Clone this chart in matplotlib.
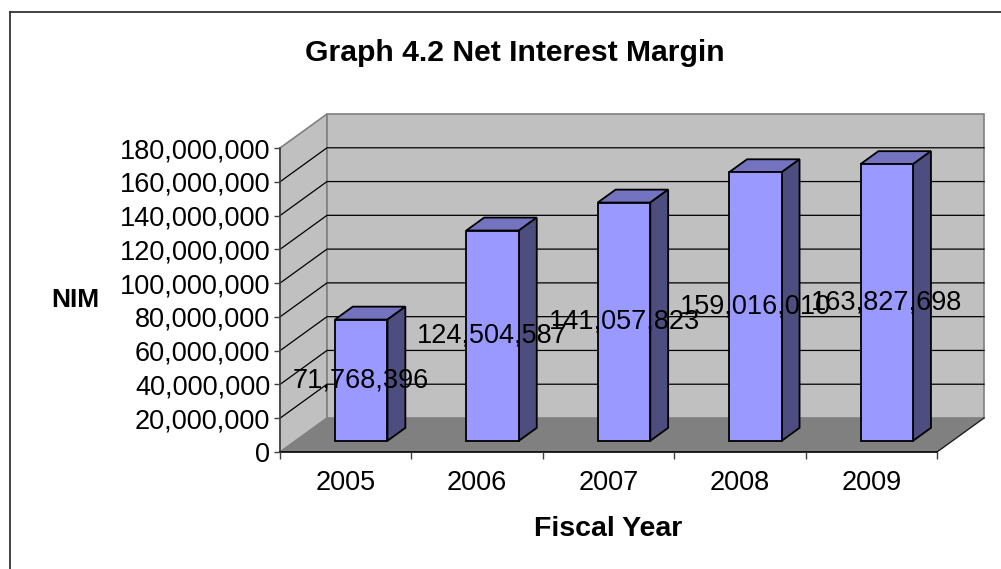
import matplotlib
matplotlib.use("Agg")
import matplotlib.pyplot as plt
from matplotlib.patches import Polygon
from matplotlib.lines import Line2D

plt.rcParams['font.family'] = ['Liberation Sans', 'DejaVu Sans']

years = ['2005', '2006', '2007', '2008', '2009']
nim = [71768396, 124504587, 141057823, 159016010, 163827698]
y_ticks = list(range(0, 180000001, 20000000))

W, H = 1001, 569
fig = plt.figure(figsize=(W / 100, H / 100), dpi=100)

# front plane of the 3-D box, in pixels
x0, x1 = 280, 937
y0, y1 = 452, 148
ax = fig.add_axes([x0 / W, 1 - y0 / H, (x1 - x0) / W, (y0 - y1) / H])
ax.set_xlim(0, len(years))
ax.set_ylim(0, 180000000)
ax.patch.set_visible(False)

# depth offset of the back wall expressed in data units
px_x = (x1 - x0) / len(years)
px_y = (y0 - y1) / 180000000
DX = 47 / px_x
DY = 34 / px_y
top = 180000000

wall = '#c0c0c0'
floor = '#808080'
edge = '#808080'

# side wall, back wall and floor
ax.add_patch(Polygon([(0, 0), (DX, DY), (DX, top + DY), (0, top)],
                     closed=True, fc=wall, ec=edge, lw=1.2, zorder=0, clip_on=False))
ax.add_patch(Polygon([(DX, DY), (len(years) + DX, DY), (len(years) + DX, top + DY), (DX, top + DY)],
                     closed=True, fc=wall, ec=edge, lw=1.2, zorder=0, clip_on=False))
ax.add_patch(Polygon([(0, 0), (len(years), 0), (len(years) + DX, DY), (DX, DY)],
                     closed=True, fc=floor, ec='none', zorder=0.5, clip_on=False))
ax.plot([len(years), len(years) + DX], [0, DY], color='#202020', lw=1.0, zorder=0.6, clip_on=False)

# gridlines on both walls
for v in y_ticks[1:-1]:
    ax.plot([0, DX, len(years) + DX], [v, v + DY, v + DY], color='black', lw=0.9, zorder=0.4,
            clip_on=False)

# bars
bw = 0.4
z0, dz = 0.33, 0.38
face = '#9999ff'
top_c = '#7373bf'
side_c = '#4d4d80'
for i, v in enumerate(nim):
    xl = i + (1 - bw) / 2 + z0 * DX
    xr = xl + bw
    yb = z0 * DY
    ddx, ddy = dz * DX, dz * DY
    ax.add_patch(Polygon([(xl, yb + v), (xr, yb + v), (xr + ddx, yb + v + ddy), (xl + ddx, yb + v + ddy)],
                         closed=True, fc=top_c, ec='black', lw=1.3, zorder=2, clip_on=False))
    ax.add_patch(Polygon([(xr, yb), (xr + ddx, yb + ddy), (xr + ddx, yb + v + ddy), (xr, yb + v)],
                         closed=True, fc=side_c, ec='black', lw=1.3, zorder=2, clip_on=False))
    ax.add_patch(Polygon([(xl, yb), (xr, yb), (xr, yb + v), (xl, yb + v)],
                         closed=True, fc=face, ec='black', lw=1.3, zorder=3, clip_on=False))
    ax.text(xl + bw / 2, yb + v / 2, f'{v:,}', ha='center', va='center', fontsize=19.5,
            color='black', zorder=5)

# axes lines and ticks
for s in ['top', 'right']:
    ax.spines[s].set_visible(False)
ax.spines['left'].set_color('#404040')
ax.spines['left'].set_linewidth(1.2)
ax.spines['bottom'].set_color('black')
ax.spines['bottom'].set_linewidth(1.2)
ax.spines['left'].set_zorder(1)
ax.spines['bottom'].set_zorder(1)

ax.set_yticks(y_ticks)
ax.set_yticklabels([f'{t:,}' for t in y_ticks])
ax.tick_params(axis='y', direction='out', length=4, width=1, color='#404040',
               labelsize=19.5, pad=3)

ax.set_xticks(range(len(years) + 1))
ax.set_xticklabels([])
ax.set_xticks([i + 0.5 for i in range(len(years))], minor=True)
ax.set_xticklabels(years, minor=True)
ax.tick_params(axis='x', which='major', direction='out', length=5, width=1, color='#404040')
ax.tick_params(axis='x', which='minor', length=0, labelsize=19.5, pad=13)

ax.set_xlabel('Fiscal Year', fontsize=20.5, fontweight='bold', labelpad=14)
ax.set_ylabel('NIM', fontsize=19, fontweight='bold', rotation=0, ha='center', va='center')
ax.yaxis.set_label_coords(-0.311, 0.5)

fig.text(515 / W, 1 - 53 / H, 'Graph 4.2 Net Interest Margin', ha='center', va='center',
         fontsize=21.7, fontweight='bold')

# chart border (only left and top edges fall inside the image)
fig.add_artist(Line2D([9.5 / W, 9.5 / W], [0, 1 - 11.5 / H], color='#333333', lw=1.3))
fig.add_artist(Line2D([9.5 / W, 1], [1 - 11.5 / H, 1 - 11.5 / H], color='#333333', lw=1.3))

fig.savefig('out.png', dpi=100)
